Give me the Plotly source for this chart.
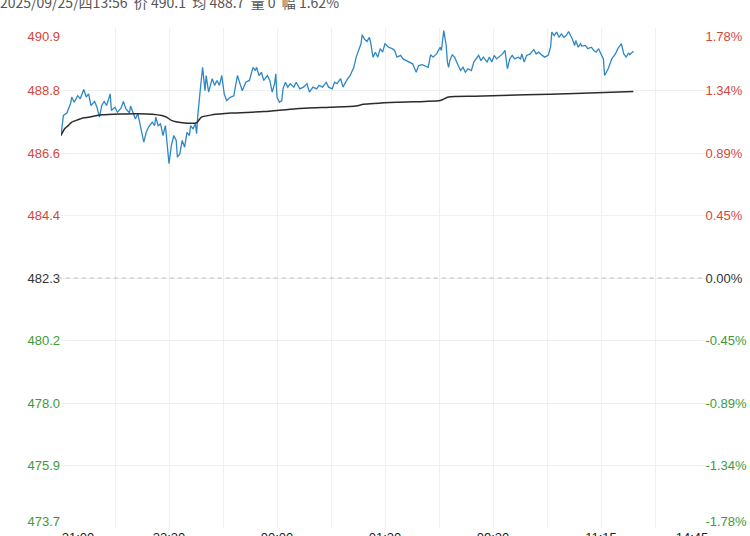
import plotly.graph_objects as go

# ---- data ----
base_price = 482.3          # previous settlement (0.00%)
half_span = 8.58            # price distance from base to top/bottom tick

left_tick_labels = ["473.7", "475.9", "478.0", "480.2", "482.3", "484.4", "486.6", "488.8", "490.9"]
right_tick_labels = ["-1.78%", "-1.34%", "-0.89%", "-0.45%", "0.00%", "0.45%", "0.89%", "1.34%", "1.78%"]
time_labels = ["21:00", "22:30", "00:00", "01:30", "09:30", "11:15", "14:45"]
time_label_minutes = [0, 90, 180, 270, 360, 450, 540]
session_minutes = 540
grid_step_minutes = 45

price_minute = [0, 2, 5, 8, 9, 11, 14, 16, 19, 21, 23, 25, 28, 30, 32, 34, 36, 38, 41, 42, 45, 47, 50, 52, 54,
                57, 58, 60, 62, 64, 66, 69, 71, 73, 76, 78, 79, 81, 83, 85, 87, 89, 90, 92, 94, 96, 97, 99, 101,
                103, 105, 107, 108, 110, 112, 113, 114, 116, 117, 118, 120, 121, 123, 126, 128, 130, 132, 134,
                136, 138, 141, 144, 147, 149, 151, 154, 157, 160, 162, 163, 165, 167, 169, 172, 174, 176, 178,
                179, 180, 182, 184, 185, 187, 189, 191, 194, 196, 199, 202, 205, 207, 210, 213, 215, 218, 221,
                223, 226, 228, 230, 233, 235, 238, 241, 244, 246, 248, 250, 251, 253, 255, 257, 258, 260, 262,
                264, 266, 268, 270, 273, 276, 278, 280, 283, 285, 288, 290, 293, 296, 298, 301, 303, 306, 308,
                310, 313, 316, 317, 319, 321, 322, 323, 324, 326, 328, 331, 333, 335, 337, 339, 342, 344, 346,
                348, 350, 352, 355, 357, 359, 361, 363, 365, 368, 370, 372, 374, 376, 378, 381, 383, 384, 386,
                388, 391, 394, 396, 398, 401, 403, 406, 408, 409, 411, 413, 415, 417, 419, 421, 423, 426, 428,
                429, 431, 433, 434, 437, 439, 442, 444, 446, 448, 450, 452, 453, 456, 458, 459, 462, 464, 467,
                469, 471, 473, 474, 477]
price = [487.19, 487.88, 487.97, 488.29, 488.51, 488.33, 488.56, 488.45, 488.77, 488.51, 488.62, 488.22, 488.36,
         488.16, 487.82, 488.22, 488.36, 488.22, 488.62, 488.05, 488.16, 487.99, 488.13, 488.36, 488.11,
         487.97, 488.20, 488.01, 487.76, 487.94, 487.53, 486.96, 487.30, 487.48, 487.65, 487.53, 487.82,
         487.53, 487.59, 487.19, 487.53, 486.56, 486.22, 486.85, 487.19, 487.02, 486.45, 486.56, 487.02,
         486.79, 487.30, 487.19, 487.53, 487.42, 487.59, 487.25, 487.88, 488.73, 489.25, 489.53, 488.73,
         489.25, 488.68, 489.14, 488.91, 489.08, 488.91, 489.25, 488.62, 488.39, 488.50, 488.55, 489.25,
         489.02, 488.73, 489.02, 489.08, 489.53, 489.42, 489.53, 489.25, 489.36, 489.08, 489.25, 489.08,
         488.68, 488.97, 489.31, 488.51, 488.33, 488.39, 488.79, 489.02, 488.85, 488.97, 488.85, 489.02,
         488.79, 488.85, 488.97, 488.68, 488.85, 488.79, 488.91, 488.85, 489.02, 488.85, 488.79, 489.02,
         488.97, 489.14, 488.85, 489.08, 489.25, 489.53, 489.88, 490.11, 490.34, 490.65, 490.49, 490.42,
         490.56, 490.39, 489.88, 490.05, 489.88, 490.17, 490.05, 490.34, 490.22, 490.17, 490.11, 489.88,
         489.94, 489.82, 489.76, 489.73, 489.65, 489.36, 489.59, 489.62, 489.59, 489.53, 489.96, 489.88,
         489.99, 490.22, 490.11, 490.79, 490.28, 489.71, 489.53, 489.76, 489.96, 489.88, 489.59, 489.42,
         489.53, 489.36, 489.48, 489.42, 489.71, 489.82, 489.94, 489.76, 489.88, 489.71, 489.88, 489.71,
         489.94, 489.82, 489.88, 489.99, 490.11, 489.48, 489.82, 489.94, 489.82, 489.88, 489.82, 489.99,
         489.71, 489.94, 489.99, 490.14, 489.99, 490.05, 489.94, 489.88, 489.94, 490.22, 490.74, 490.62,
         490.74, 490.56, 490.68, 490.56, 490.62, 490.76, 490.51, 490.28, 490.45, 490.22, 490.34, 490.26,
         490.28, 490.17, 490.22, 490.11, 490.05, 490.17, 489.99, 489.82, 489.25, 489.48, 489.71, 489.82,
         489.99, 490.17, 490.34, 489.99, 489.88, 490.03, 489.96, 490.08]

avg_minute = [0, 3, 6, 9, 14, 19, 23, 34, 64, 84, 88, 92, 101, 113, 117, 126, 142, 169, 196, 224, 246, 252,
              280, 303, 316, 323, 345, 387, 428, 477]
avg_price = [487.19, 487.42, 487.53, 487.65, 487.73, 487.80, 487.82, 487.90, 487.94, 487.88, 487.82, 487.71,
             487.63, 487.63, 487.82, 487.90, 487.96, 488.01, 488.11, 488.16, 488.20, 488.26, 488.33, 488.36,
             488.39, 488.51, 488.54, 488.59, 488.63, 488.70]

header_text = "2025/09/25/四13:56  价 490.1  均 488.7  量 0  幅 1.62%"

# ---- layout geometry ----
W, H = 750, 536
M_L, M_R, M_T, M_B = 61, 41, 28, 8
plot_w = W - M_L - M_R
plot_h = H - M_T - M_B

# ---- derived scales ----
step = half_span / 4
tick_prices = [base_price + k * step for k in range(-4, 5)]
y_range = [base_price - half_span, base_price + half_span]
to_pct = lambda v: (v - base_price) / base_price * 100
pct_range = [to_pct(v) for v in y_range]

# edge labels are kept inside the plot box (like the app does)
px_per_price = plot_h / (2 * half_span)
px_per_min = plot_w / session_minutes
label_prices = list(tick_prices)
label_prices[0] += 6.5 / px_per_price
label_prices[-1] -= 8 / px_per_price
label_pcts = [to_pct(v) for v in label_prices]
x_inset = 17 / px_per_min
label_minutes = list(time_label_minutes)
label_minutes[0] += x_inset
label_minutes[-1] -= x_inset

RED, GREEN, GRAY = "#d4463c", "#3f9a3a", "#333333"
GRID = "#efefef"


def colorize(labels):
    out = []
    for i, t in enumerate(labels):
        c = GREEN if i < 4 else (GRAY if i == 4 else RED)
        out.append(f'<span style="color:{c}">{t}</span>')
    return out


fig = go.Figure()
# grid-only axes (x / y)
fig.add_trace(go.Scatter(x=[0, session_minutes], y=y_range, mode="lines", line=dict(width=0),
                         opacity=0, hoverinfo="skip"))
# labelled axes
fig.add_trace(go.Scatter(x=[0, session_minutes], y=y_range, xaxis="x2", yaxis="y2", mode="lines",
                         line=dict(width=0), opacity=0, hoverinfo="skip"))
fig.add_trace(go.Scatter(x=[0, session_minutes], y=pct_range, xaxis="x2", yaxis="y3", mode="lines",
                         line=dict(width=0), opacity=0, hoverinfo="skip"))

fig.add_shape(type="line", xref="paper", x0=-0.005, x1=0.995, yref="y", y0=base_price, y1=base_price,
              line=dict(color="#bdbdbd", width=1, dash="4px,4px"), layer="above")

# data lines
fig.add_trace(go.Scatter(x=price_minute, y=price, mode="lines",
                         line=dict(color="#2f87c4", width=1.3), hoverinfo="skip"))
fig.add_trace(go.Scatter(x=avg_minute, y=avg_price, mode="lines",
                         line=dict(color="#2b2b2b", width=1.5, shape="spline", smoothing=0.6),
                         hoverinfo="skip"))

fig.add_annotation(text=header_text, xref="paper", yref="paper", x=-(M_L + 2) / plot_w,
                   y=1 + (M_T - 2) / plot_h, xanchor="left", yanchor="middle", showarrow=False,
                   font=dict(family="Noto Sans CJK SC", size=14, color="#555555"))

common = dict(zeroline=False, showline=False, ticks="", automargin=False)
fig.update_layout(
    width=W, height=H,
    margin=dict(l=M_L, r=M_R, t=M_T, b=M_B, autoexpand=False),
    paper_bgcolor="white", plot_bgcolor="white",
    showlegend=False,
    font=dict(family="Liberation Sans, Arial", size=13, color=GRAY),
    xaxis=dict(range=[0, session_minutes], tickmode="array",
               tickvals=list(range(0, session_minutes + 1, grid_step_minutes)),
               showticklabels=False, showgrid=True, gridcolor=GRID, gridwidth=1, **common),
    yaxis=dict(range=y_range, tickmode="array", tickvals=tick_prices, showticklabels=False,
               showgrid=True, gridcolor=GRID, gridwidth=1, **common),
    xaxis2=dict(range=[0, session_minutes], overlaying="x", anchor="y2", side="bottom",
                tickmode="array", tickvals=label_minutes, ticktext=time_labels,
                showgrid=False, ticklabeloverflow="allow",
                tickfont=dict(size=13, color="#222222"), **common),
    yaxis2=dict(range=y_range, overlaying="y", side="left", anchor="x2",
                tickmode="array", tickvals=label_prices, ticktext=colorize(left_tick_labels),
                showgrid=False, **common),
    yaxis3=dict(range=pct_range, overlaying="y", side="right", anchor="free", position=0.993,
                tickmode="array", tickvals=label_pcts, ticktext=colorize(right_tick_labels),
                showgrid=False, **common),
)

fig.write_html("out.html", config={"displayModeBar": False},
               post_script="document.body.style.margin='0';document.body.style.overflow='hidden';")
